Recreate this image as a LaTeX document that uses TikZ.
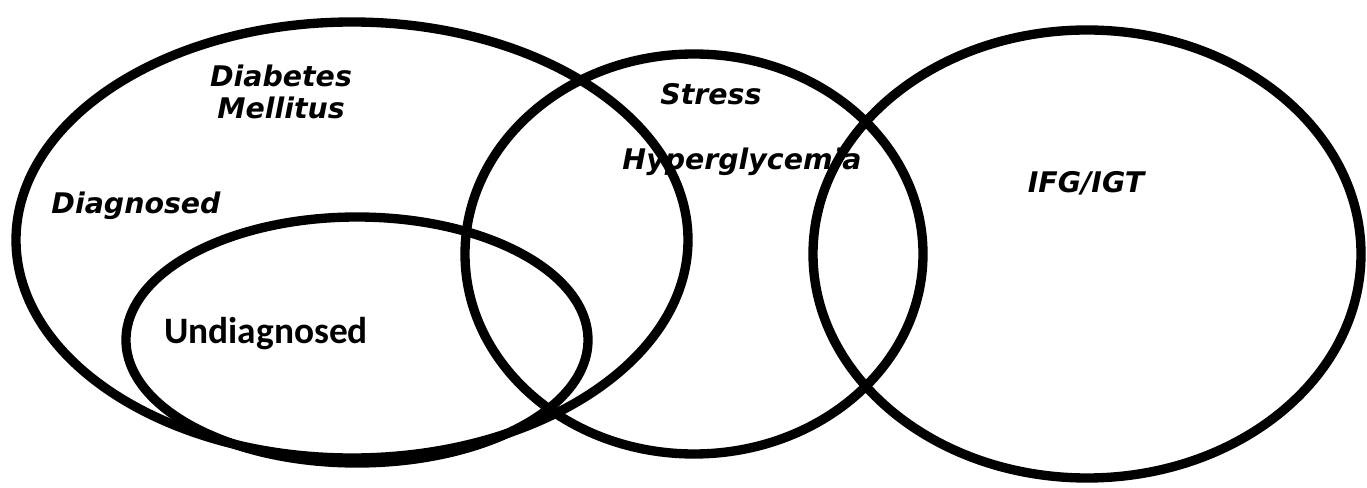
\documentclass[tikz,border=0pt]{standalone}
\usepackage{fontspec}
\newfontfamily\labelfont{DejaVu Sans}
\newfontfamily\plainfont{Carlito}

\tikzset{
  ring/.style={line width=7pt},
  setlabel/.style={inner sep=0pt, anchor=base, font=\labelfont\bfseries\itshape\fontsize{21.3pt}{24pt}\selectfont},
  sublabel/.style={inner sep=0pt, anchor=base, font=\plainfont\bfseries\fontsize{28pt}{30pt}\selectfont}
}

\begin{document}
\begin{tikzpicture}[x=0.75pt,y=-0.75pt] %Conjuntos de hiperglucemia
            \useasboundingbox (0,0) rectangle (1367,488);

            \coordinate (DM) at (352,240);
            \coordinate (UD) at (357,340);
            \coordinate (SH) at (694,254);
            \coordinate (IG) at (1087,254);

            \draw[ring] (DM) ellipse [x radius=336, y radius=218];
            \draw[ring] (UD) ellipse [x radius=231, y radius=123];
            \draw[ring] (SH) ellipse [x radius=229, y radius=200];
            \draw[ring] (IG) ellipse [x radius=274, y radius=224];

            \node[setlabel, align=center] (dm) at (281,119) {Diabetes\\Mellitus};
            \node[setlabel] (dg) at (136,214) {Diagnosed};
            \node[sublabel] (ud) at (266,343) {Undiagnosed};
            \node[setlabel] (st) at (711,105) {Stress};
            \node[setlabel] (hg) at (742,170) {Hyperglycemia};
            \node[setlabel] (ig) at (1086,193) {IFG/IGT};
        \end{tikzpicture}
\end{document}
